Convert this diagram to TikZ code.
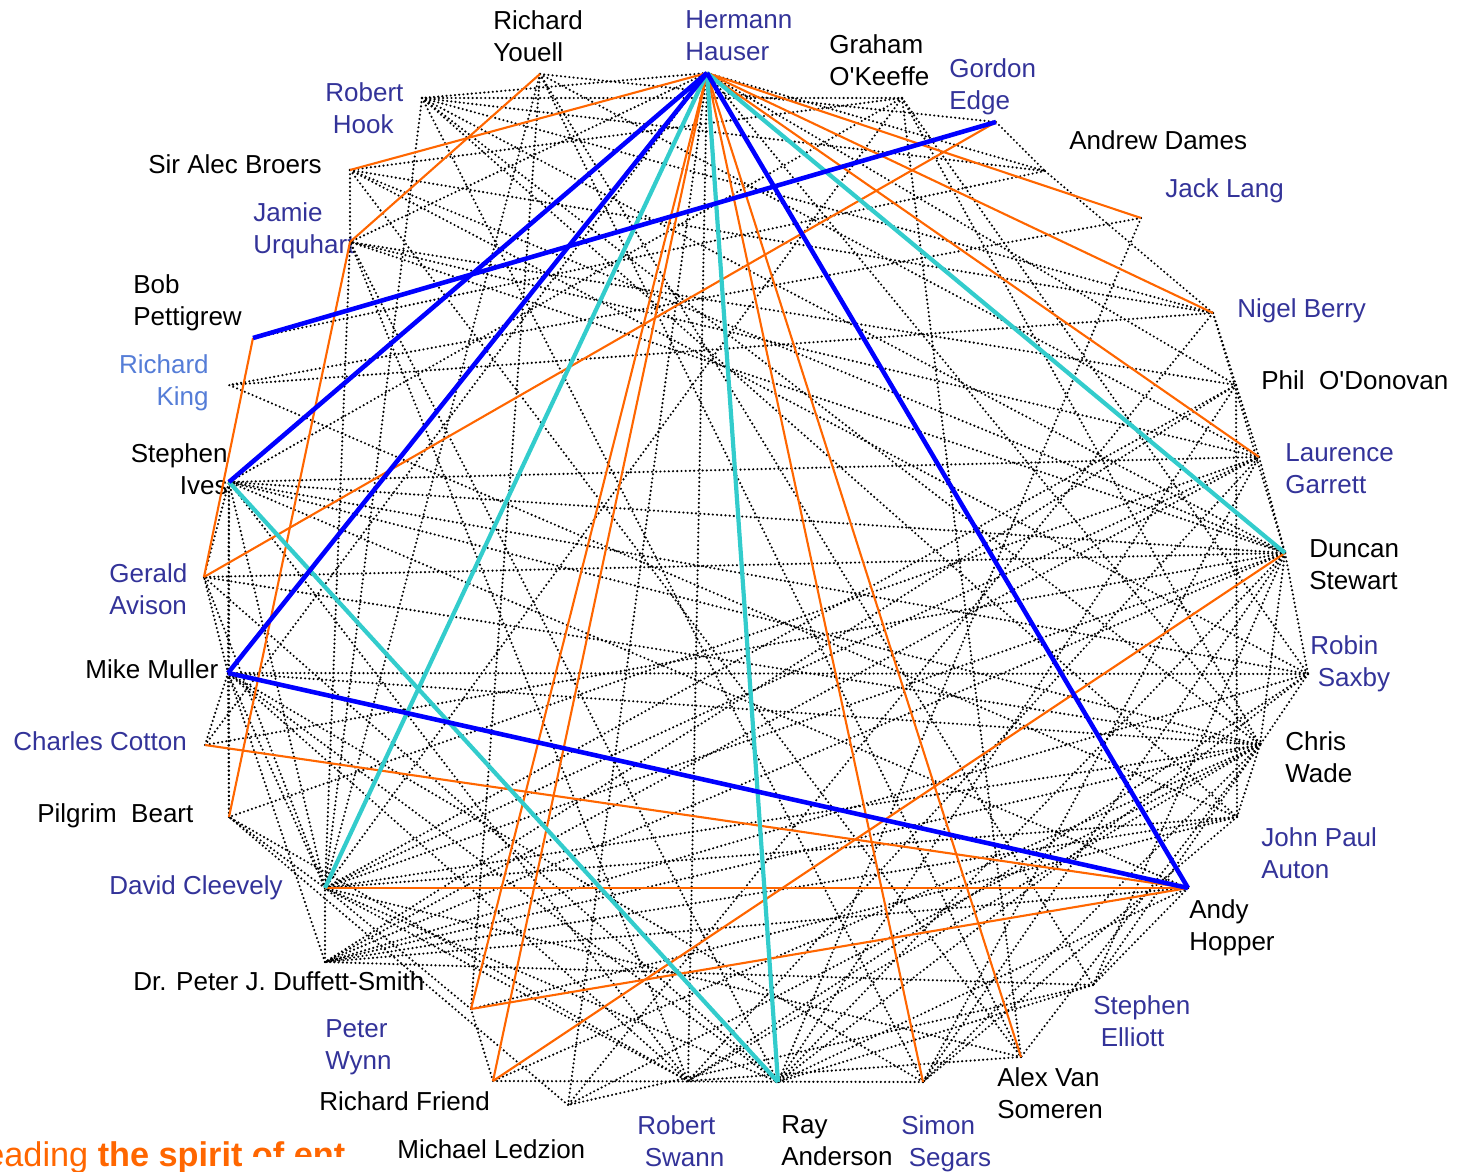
\documentclass[tikz,border=0pt]{standalone}
\usepackage{fontspec}
\setmainfont{Liberation Sans}[Ligatures=TeXOff]
\definecolor{namecol}{RGB}{51,51,153}
\definecolor{kingcol}{RGB}{85,125,215}
\definecolor{tieorange}{RGB}{255,102,0}
\definecolor{tieblue}{RGB}{0,0,255}
\definecolor{tiecyan}{RGB}{51,204,204}
\tikzset{
  person/.style={inner sep=0pt, anchor=north west, align=left, font=\fontsize{14.8}{18.2}\selectfont},
  blueperson/.style={person, text=namecol},
  tie/.style={dash pattern=on 0pt off 2.4pt, line cap=round, line width=1.35pt},
  orangetie/.style={tieorange, line width=1.2pt},
  bluetie/.style={tieblue, line width=2.6pt},
  cyantie/.style={tiecyan, line width=2.4pt},
}
\begin{document}
\begin{tikzpicture}[x=0.02cm, y=-0.02cm]
\useasboundingbox (0,0) rectangle (1467,1172);
% meeting points
\foreach \n/\x/\y in {RY/540/74, HH/707/73, GO/902/98, GE/996/122, AD/1045/171,
  JL/1141/218, NB/1213/313, PO/1236/385, LG/1259/457, DS/1285/553, RS/1308/674,
  CW/1260/745, JA/1237/817, AH/1188/888, SE/1093/985, AV/1021/1057, SS/923/1082,
  RA/778/1082, RW/688/1081, ML/568/1105, RF/493/1081, PW/471/1009, DF/325/962,
  DC/325/888, PB/229/817, CC/205/745, MM/228/673, GA/204/577, SI/229/482,
  RK/229/385, BP/253/338, JU/350/242, AB/350/170, RH/422/98}
  \coordinate (\n) at (\x,\y);

% names
\node[person] (ryname) at (493,10) {Richard\\Youell};
\node[blueperson] (hhname) at (685,10) {Hermann\\Hauser};
\node[person] (goname) at (829,34) {Graham\\O'Keeffe};
\node[blueperson] (gename) at (949,58) {Gordon\\Edge};
\node[person] (adname) at (1069,130) {Andrew Dames};
\node[blueperson] (jlname) at (1165,178) {Jack Lang};
\node[blueperson] (nbname) at (1237,298) {Nigel Berry};
\node[person] (poname) at (1261,370) {Phil\ \ O'Donovan};
\node[blueperson] (lgname) at (1285,443) {Laurence\\Garrett};
\node[person] (dsname) at (1309,539) {Duncan\\Stewart};
\node[blueperson] (rsname) at (1310,635) {Robin\\\hspace*{0.15cm}Saxby};
\node[person] (cwname) at (1285,731) {Chris\\Wade};
\node[blueperson] (janame) at (1261,827) {John Paul\\Auton};
\node[person] (ahname) at (1189,899) {Andy\\Hopper};
\node[blueperson] (sename) at (1093,995) {Stephen\\\hspace*{0.15cm}Elliott};
\node[person] (avname) at (997,1067) {Alex Van\\Someren};
\node[blueperson] (ssname) at (901,1115) {Simon\\\hspace*{0.15cm}Segars};
\node[person] (raname) at (781,1115) {Ray\\Anderson};
\node[blueperson] (rwname) at (637,1115) {Robert\\\hspace*{0.15cm}Swann};
\node[person] (mlname) at (397,1139) {Michael Ledzion};
\node[person] (rfname) at (319,1091) {Richard Friend};
\node[blueperson] (pwname) at (325,1019) {Peter\\Wynn};
\node[person] (dfname) at (133,971) {Dr. Peter J. Duffett-Smith};
\node[blueperson] (dcname) at (109,875) {David Cleevely};
\node[person] (pbname) at (37,803) {Pilgrim\ \ Beart};
\node[blueperson] (ccname) at (13,731) {Charles Cotton};
\node[person] (mmname) at (85,659) {Mike Muller};
\node[blueperson] (ganame) at (109,563) {Gerald\\Avison};
\node[person, anchor=north east, align=right] (siname) at (228,443) {Stephen\\Ives};
\node[person, anchor=north east, align=right, text=kingcol] (rkname) at (209,354) {Richard\\King};
\node[person] (bpname) at (133,274) {Bob\\Pettigrew};
\node[blueperson] (juname) at (253,202) {Jamie\\Urquhart};
\node[person] (abname) at (148,154) {Sir Alec Broers};
\node[blueperson] (rhname) at (325,82) {Robert\\\hspace*{0.15cm}Hook};

% dotted acquaintances
\foreach \a/\b in {HH/PO, HH/RW, HH/AD, HH/CC, HH/JU, HH/ML, HH/RH, HH/CW,
  RY/LG, RY/AV, RY/DC, RY/SE, RY/PW, RY/GE,
  RH/GO, RH/NB, RH/DS, RH/CW, RH/SS, RH/DC, RH/AD, RH/JA,
  AB/JU, AB/DS, AB/RS, AB/AV, AB/NB, AB/GO,
  GO/DC, GO/CW, GO/RS, GO/SI, GE/AD, AD/BP, AD/NB, JL/RA, JL/RK,
  NB/RK, NB/DS, NB/ML, NB/PO,
  PO/JA, PO/JU, PO/DF, PO/DC, PO/LG, PO/RA,
  LG/SI, LG/PB, LG/DS, LG/SS, LG/DC, LG/DF, LG/JU,
  DS/GA, DS/DF, DS/SS, DS/CW, DS/RS, DS/SE, DS/RA, DS/SI, DS/DC, DS/JU, DS/CC,
  RS/MM, RS/CW, RS/RA, RS/DF, RS/SI, RS/RW,
  CW/GA, CW/MM, CW/DC, CW/RW, CW/SE, CW/DF, CW/SI, CW/SS, CW/JA, CW/AV, CW/RF, CW/ML,
  JA/RK, JA/DC, JA/DF, JA/SS, JA/PW,
  AH/SI, AH/DF, AH/SE, AH/RA,
  SE/ML, SE/RA, SE/DF, AV/DC, AV/RW, AV/GO,
  SS/MM, SS/RF, RA/DC, RA/JU, RA/MM, RA/GA,
  RW/DC, RW/MM, RW/SI, RW/LG, RW/JU, RW/PB,
  ML/PB, RF/PW, PW/DC, DF/DC, DF/MM,
  DC/MM, DC/SI, DC/PB, DC/JU, DC/GA,
  PB/SI, PB/MM, CC/MM, MM/SI, MM/GA, GA/SI}
  \draw[tie] (\a) -- (\b);

\foreach \a/\b in {HH/AB, HH/JL, HH/NB, HH/LG, HH/AV, HH/SS, HH/RF, HH/PW,
  RY/JU, JU/PB, BP/GA, GA/GE, CC/AH, DC/AH, PW/AH, RF/DS}
  \draw[orangetie] (\a) -- (\b);

\foreach \a/\b in {HH/DC, HH/RA, HH/DS, SI/RA}
  \draw[cyantie] (\a) -- (\b);

\foreach \a/\b in {HH/SI, HH/MM, HH/AH, BP/GE, MM/AH}
  \draw[bluetie] (\a) -- (\b);

% slide motto, partly hidden
\node[anchor=base west, inner sep=0pt, text=tieorange, font=\fontsize{19.5}{22}\selectfont]
  (motto) at (-34,1166) {Leading \textbf{the spirit of ent}};
\fill[white] (250,1157) rectangle (370,1172);
\end{tikzpicture}
\end{document}
